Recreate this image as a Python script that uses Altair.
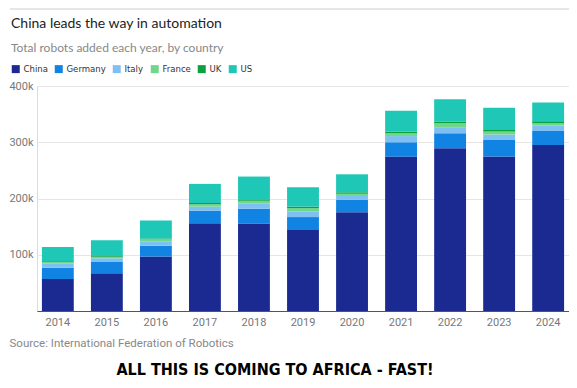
import altair as alt
import pandas as pd

years = ["2014", "2015", "2016", "2017", "2018", "2019", "2020", "2021", "2022", "2023", "2024"]
countries = ["China", "Germany", "Italy", "France", "UK", "US"]
# thousands of robots added each year
china = [57, 67, 97, 156, 155, 144, 175.5, 274.5, 289.5, 274.5, 295]
germany = [20, 20, 19, 22, 27, 23, 22, 25.5, 26.5, 29.5, 26]
italy = [8, 7, 8, 7.5, 9.5, 10, 7, 11, 10, 10, 9]
france = [2.5, 2.5, 3.5, 4.5, 4.5, 6, 4, 5, 8, 5, 4]
uk = [1.5, 1.5, 1.5, 2, 2.5, 2.5, 2.5, 3, 3, 3, 3.5]
us = [25, 28, 32, 34, 40.5, 34.5, 32, 37, 39.5, 39.5, 33]
colors = ["#1b2a91", "#1183e2", "#7fc0f2", "#6fd68a", "#0ba23d", "#1fc7b6"]

title = "China leads the way in automation"
subtitle = "Total robots added each year, by country"
source = "Source: International Federation of Robotics"
footer = "ALL THIS IS COMING TO AFRICA - FAST!"

series = [china, germany, italy, france, uk, us]
rows = []
for i, yr in enumerate(years):
    for j, (c, vals) in enumerate(zip(countries, series)):
        rows.append({"year": yr, "country": c, "robots": vals[i] * 1000, "order": j})
df = pd.DataFrame(rows)

W, H = 532, 225
NARROW = "DejaVu Sans Condensed, sans-serif"

bars = alt.Chart(df).mark_bar().encode(
    x=alt.X("year:O",
            scale=alt.Scale(paddingInner=0.35, paddingOuter=0.1),
            axis=alt.Axis(title=source, labelAngle=0, ticks=False, domainColor="#555555",
                          labelColor="#777777", labelFontSize=11, labelPadding=5,
                          labelFont="Roboto",
                          titleX=-28, titleY=32, titleAlign="left", titleBaseline="middle",
                          titleFontWeight="normal", titleColor="#888888", titleFontSize=11.5,
                          titleFont="Roboto")),
    y=alt.Y("robots:Q", stack="zero",
            scale=alt.Scale(domain=[0, 400000], nice=False),
            axis=alt.Axis(title=None, values=[100000, 200000, 300000, 400000], format="~s",
                          ticks=False, domain=False, gridColor="#e6e6e6",
                          labelColor="#777777", labelFontSize=11, labelPadding=4,
                          labelFont="Roboto")),
    color=alt.Color("country:N",
                    scale=alt.Scale(domain=countries, range=colors),
                    legend=alt.Legend(title=None, orient="none", legendX=-26, legendY=-22,
                                      direction="horizontal", symbolType="square",
                                      symbolSize=64, symbolStrokeWidth=0, columnPadding=6,
                                      labelOffset=3,
                                      labelFont=NARROW, labelFontSize=9.5,
                                      labelColor="#333333", labelFontWeight="normal")),
    order=alt.Order("order:Q", sort="ascending"),
)

top_rule = alt.Chart(pd.DataFrame({"a": [0]})).mark_rule(color="#cccccc", strokeWidth=1).encode(
    x=alt.value(-27), x2=alt.value(W), y=alt.value(-77)
)

foot = alt.Chart(pd.DataFrame({"t": [footer]})).mark_text(
    font=NARROW, fontSize=16, fontWeight="bold", color="#000000", align="center", baseline="middle"
).encode(text="t:N", x=alt.value(238), y=alt.value(284))

chart = alt.layer(top_rule, bars, foot).properties(
    width=W, height=H,
    padding={"left": 29, "top": 78, "right": 0, "bottom": 69},
    autosize=alt.AutoSizeParams(type="none"),
    title=alt.TitleParams(text=title, subtitle=subtitle, anchor="start", frame="group",
                          dx=-26, dy=45, offset=0, font="Lato", fontSize=14, fontWeight="normal",
                          color="#222222", subtitleFont="Lato", subtitleFontSize=12,
                          subtitleColor="#888888", subtitlePadding=12),
).configure_view(stroke=None).configure(background="white")

chart.save("out.html", embed_options={"renderer": "svg", "actions": False})
